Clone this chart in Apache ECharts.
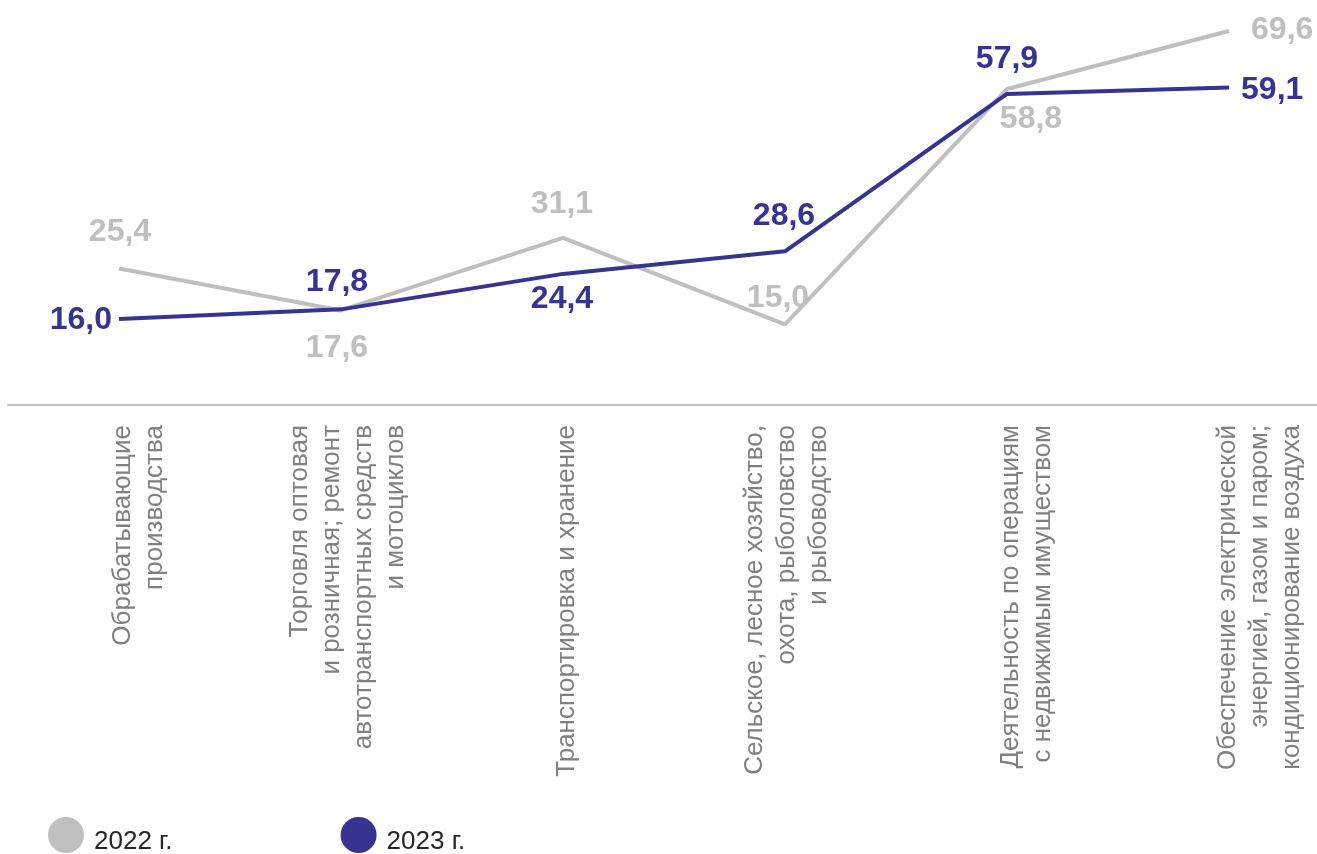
<!DOCTYPE html>
<html><head><meta charset="utf-8">
<script src="https://cdn.jsdelivr.net/npm/echarts@6/dist/echarts.min.js"></script>
<style>html,body{margin:0;padding:0;background:#fff;overflow:hidden}#c{width:1340px;height:854px}</style>
</head><body><div id="c"></div>
<script>
const categories = [
  "Обрабатывающие\nпроизводства",
  "Торговля оптовая\nи розничная; ремонт\nавтотранспортных средств\nи мотоциклов",
  "Транспортировка и хранение",
  "Сельское, лесное хозяйство,\nохота, рыболовство\nи рыбоводство",
  "Деятельность по операциям\nс недвижимым имуществом",
  "Обеспечение электрической\nэнергией, газом и паром;\nкондиционирование воздуха"
];
const seriesNames = ['2022 г.', '2023 г.'];
const values2022 = [25.4, 17.6, 31.1, 15.0, 58.8, 69.6];
const values2023 = [16.0, 17.8, 24.4, 28.6, 57.9, 59.1];

// label placement (layout only)
const labelLayout2022 = [
  { position: 'top', distance: 20, offset: [1, 0] },
  { position: 'bottom', distance: 22, offset: [-4, 0] },
  { position: 'top', distance: 18, offset: [-1, 0] },
  { position: 'top', distance: 10, offset: [-7, 0] },
  { position: 'bottom', distance: 14, offset: [24, 0] },
  { position: 'right', distance: 22, offset: [0, -1] }
];
const labelLayout2023 = [
  { position: 'left', distance: 7, offset: [0, 1] },
  { position: 'top', distance: 11, offset: [-4, 0] },
  { position: 'bottom', distance: 9, offset: [-1, 0] },
  { position: 'top', distance: 19, offset: [-1, 0] },
  { position: 'top', distance: 19, offset: [0, 0] },
  { position: 'right', distance: 12, offset: [0, 3] }
];
// sideways shift of each axis label block (px, to the right)
const labelShift = [20, 7, 4, 2, 20, 31];

const gray = '#bfbfbf', blue = '#363391';
const chart = echarts.init(document.getElementById('c'));
const fmt = p => p.value.toFixed(1).replace('.', ',');
function mk(vals, lay) {
  return vals.map((v, i) => ({ value: v, label: lay[i] }));
}
function series(name, vals, lay, color) {
  return {
    name, type: 'line', data: mk(vals, lay), color,
    symbol: 'circle', symbolSize: 0.1, showSymbol: true,
    lineStyle: { width: 4, color }, itemStyle: { color },
    label: { show: true, formatter: fmt, color, fontFamily: 'Liberation Sans', fontWeight: 'bold', fontSize: 32 }
  };
}
chart.setOption({
  animation: false,
  grid: { left: 8, top: 2, right: 0, height: 403, containLabel: false },
  legend: {
    left: 48, top: 817, padding: 0, itemWidth: 36, itemHeight: 36, itemGap: 168, icon: 'circle',
    formatter: '{t|{name}}',
    textStyle: {
      fontFamily: 'Liberation Sans', fontSize: 26, color: '#262626',
      rich: { t: { fontFamily: 'Liberation Sans', fontSize: 26, color: '#262626', padding: [14, 0, 0, 5] } }
    },
    data: seriesNames
  },
  xAxis: {
    type: 'category',
    data: categories,
    axisLine: { lineStyle: { color: '#bfbfbf', width: 2 } },
    axisTick: { show: false },
    axisLabel: {
      rotate: 90, margin: 20, interval: 0, align: 'right',
      fontFamily: 'Liberation Sans', fontSize: 26, lineHeight: 32, color: '#808080',
      formatter: (val, idx) => {
        const lines = val.split('\n').map(l => '{a|' + l + '}');
        return '{g' + idx + '| }\n' + lines.join('\n');
      },
      rich: Object.assign({
        a: { fontFamily: 'Liberation Sans', fontSize: 26, lineHeight: 32, color: '#808080', align: 'right' }
      }, ...labelShift.map((s, i) => ({ ['g' + i]: { fontSize: 1, lineHeight: Math.max(1, 2 * s), align: 'right' } })))
    }
  },
  yAxis: { type: 'value', min: 0, max: 75, show: false, splitLine: { show: false } },
  series: [
    series(seriesNames[0], values2022, labelLayout2022, gray),
    series(seriesNames[1], values2023, labelLayout2023, blue)
  ]
});
</script></body></html>
